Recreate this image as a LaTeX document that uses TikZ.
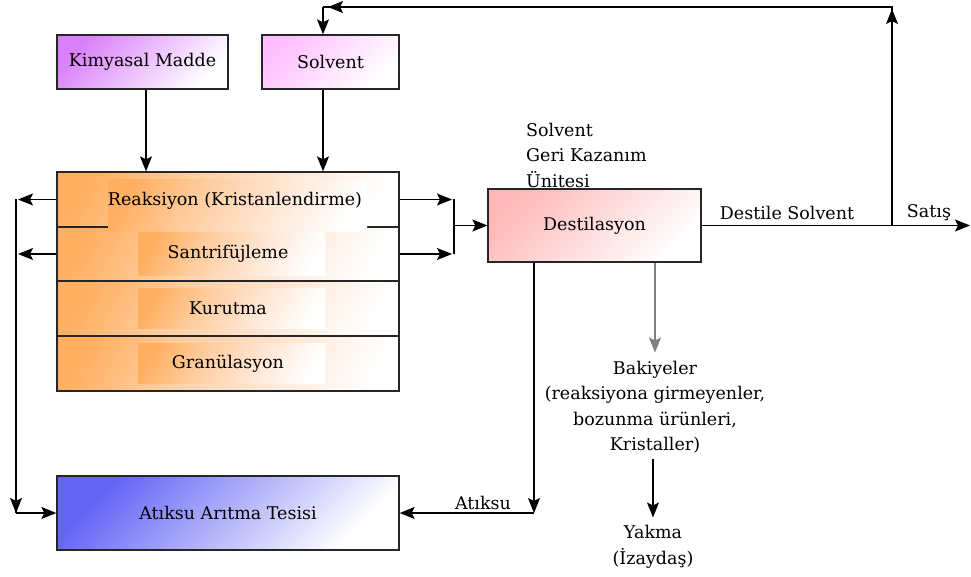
\documentclass[tikz,border=0pt]{standalone}
\usepackage{fontspec}
\setmainfont{DejaVu Serif}
\usetikzlibrary{arrows.meta,calc}
\definecolor{kmc}{RGB}{218,128,250}
\definecolor{kmm}{RGB}{240,205,252}
\definecolor{solc}{RGB}{255,190,255}
\definecolor{solm}{RGB}{255,228,255}
\definecolor{orc}{RGB}{255,175,95}
\definecolor{orp}{RGB}{255,205,160}
\definecolor{orm}{RGB}{255,232,215}
\definecolor{dsc}{RGB}{255,185,185}
\definecolor{dsm}{RGB}{255,225,225}
\definecolor{atc}{RGB}{100,100,245}
\definecolor{atm}{RGB}{200,200,250}
\newcommand\dfont{\fontsize{17.5}{25.5}\selectfont}
\pgfdeclarehorizontalshading{orsh}{100bp}{color(0bp)=(orc); color(22bp)=(orc); color(40bp)=(orp); color(60bp)=(orm); color(78bp)=(white); color(100bp)=(white)}
\begin{document}
\begin{tikzpicture}[x=1pt,y=-1pt,
  box/.style={draw=black!85,line width=1.3pt,rectangle,inner sep=0pt,font=\dfont},
  txt/.style={inner sep=0pt,font=\dfont,align=center},
  orshade/.style={shading=orsh,shading angle=-30},
  ln/.style={line width=1.3pt},
  arr/.style={line width=1.3pt,-{Stealth[length=15pt,width=12pt,inset=3pt]}}]
\useasboundingbox (0,0) rectangle (971,577);
% top input boxes
\node[box,minimum width=171pt,minimum height=54pt,top color=kmc,middle color=kmm,bottom color=white,shading angle=45] (km) at (142.5,62) {Kimyasal Madde};
\node[box,minimum width=137pt,minimum height=54pt,top color=solc,middle color=solm,bottom color=white,shading angle=45] (sol) at (330.5,62) {Solvent};
% stack rows
\node[box,minimum width=342pt,minimum height=55pt,orshade] (r1) at (228,199.5) {};
\node[box,minimum width=342pt,minimum height=54pt,orshade] (r2) at (228,254) {};
\node[box,minimum width=342pt,minimum height=55pt,orshade] (r3) at (228,308.5) {};
\node[box,minimum width=342pt,minimum height=55pt,orshade] (r4) at (228,363.5) {};
% inner shaded text panels
\shade[orshade] (108,180) rectangle (367,232);
\shade[orshade] (138,233) rectangle (325,275);
\shade[orshade] (138,288) rectangle (325,328);
\shade[orshade] (138,343) rectangle (325,383);
\node[txt] (t1) at (235,201) {Reaksiyon (Kristanlendirme)};
\node[txt] (t2) at (228,254) {Santrifüjleme};
\node[txt] (t3) at (228,308.5) {Kurutma};
\node[txt] (t4) at (228,363.5) {Granülasyon};
% distillation
\node[box,minimum width=213pt,minimum height=73pt,top color=dsc,middle color=dsm,bottom color=white,shading angle=45] (dest) at (594.5,225.5) {Destilasyon};
\node[txt,align=left,anchor=west] (sgk) at (526,155) {Solvent\\Geri Kazanım\\Ünitesi};
% waste water plant
\node[box,minimum width=342pt,minimum height=74pt,top color=atc,middle color=atm,bottom color=white,shading angle=45] (at) at (228,513) {Atıksu Arıtma Tesisi};
% labels
\node[txt] (ds) at (787,213) {Destile Solvent};
\node[txt] (sat) at (929,213) {Satış};
\node[txt] (atl) at (483,503) {Atıksu};
\node[txt] (bak) at (655,407) {Bakiyeler\\(reaksiyona girmeyenler,\\bozunma ürünleri,\\Kristaller)};
\node[txt] (yak) at (653,547) {Yakma\\(İzaydaş)};
% helper coordinates
\coordinate (kx) at (146,0);
\coordinate (sx) at (323,0);
\coordinate (lx) at (16,0);
\coordinate (jx) at (454,0);
\coordinate (dx) at (534,0);
\coordinate (vx) at (892,0);
\coordinate (ex) at (970,0);
\coordinate (ty) at (0,7);
% inputs
\draw[arr] (kx |- km.south) -- (kx |- r1.north);
\draw[arr] (sx |- sol.south) -- (sx |- r1.north);
% left outputs
\draw[arr] (r1.west) -- ($(lx |- r1.west)+(2,0)$);
\draw[arr] (r2.west) -- ($(lx |- r2.west)+(2,0)$);
\draw[ln] (lx |- r1.west) -- (lx |- at.west);
\draw[arr] (lx |- r2.west) -- (lx |- at.west);
\draw[arr] (lx |- at.west) -- (at.west);
% right outputs to distillation
\draw[arr] (r1.east) -- ($(jx |- r1.east)+(-2,0)$);
\draw[arr] (r2.east) -- ($(jx |- r2.east)+(-2,0)$);
\draw[ln] (jx |- r1.east) -- (jx |- r2.east);
\draw[arr] (jx |- dest.west) -- (dest.west);
% distilled solvent
\draw[arr] (dest.east) -- (ex |- dest.east);
\draw[ln] (vx |- dest.east) -- (vx |- ty) -- (sx |- ty);
\draw[arr] ($(vx |- ty)+(0,40)$) -- ($(vx |- ty)+(0,2)$);
\draw[arr] ($(sx |- ty)+(40,0)$) -- ($(sx |- ty)+(5,0)$);
\draw[arr] (sx |- ty) -- (sx |- sol.north);
% waste water
\draw[arr] (dx |- dest.south) -- (dx |- at.east);
\draw[arr] (dx |- at.east) -- (at.east);
% residues
\draw[arr,draw=black!50,line width=1.8pt] (bak |- dest.south) -- ($(bak.north)+(0,-8)$);
\draw[arr] ($(bak.south)+(-2,6)$) -- ($(yak.north)+(0,-8)$);
\end{tikzpicture}
\end{document}
